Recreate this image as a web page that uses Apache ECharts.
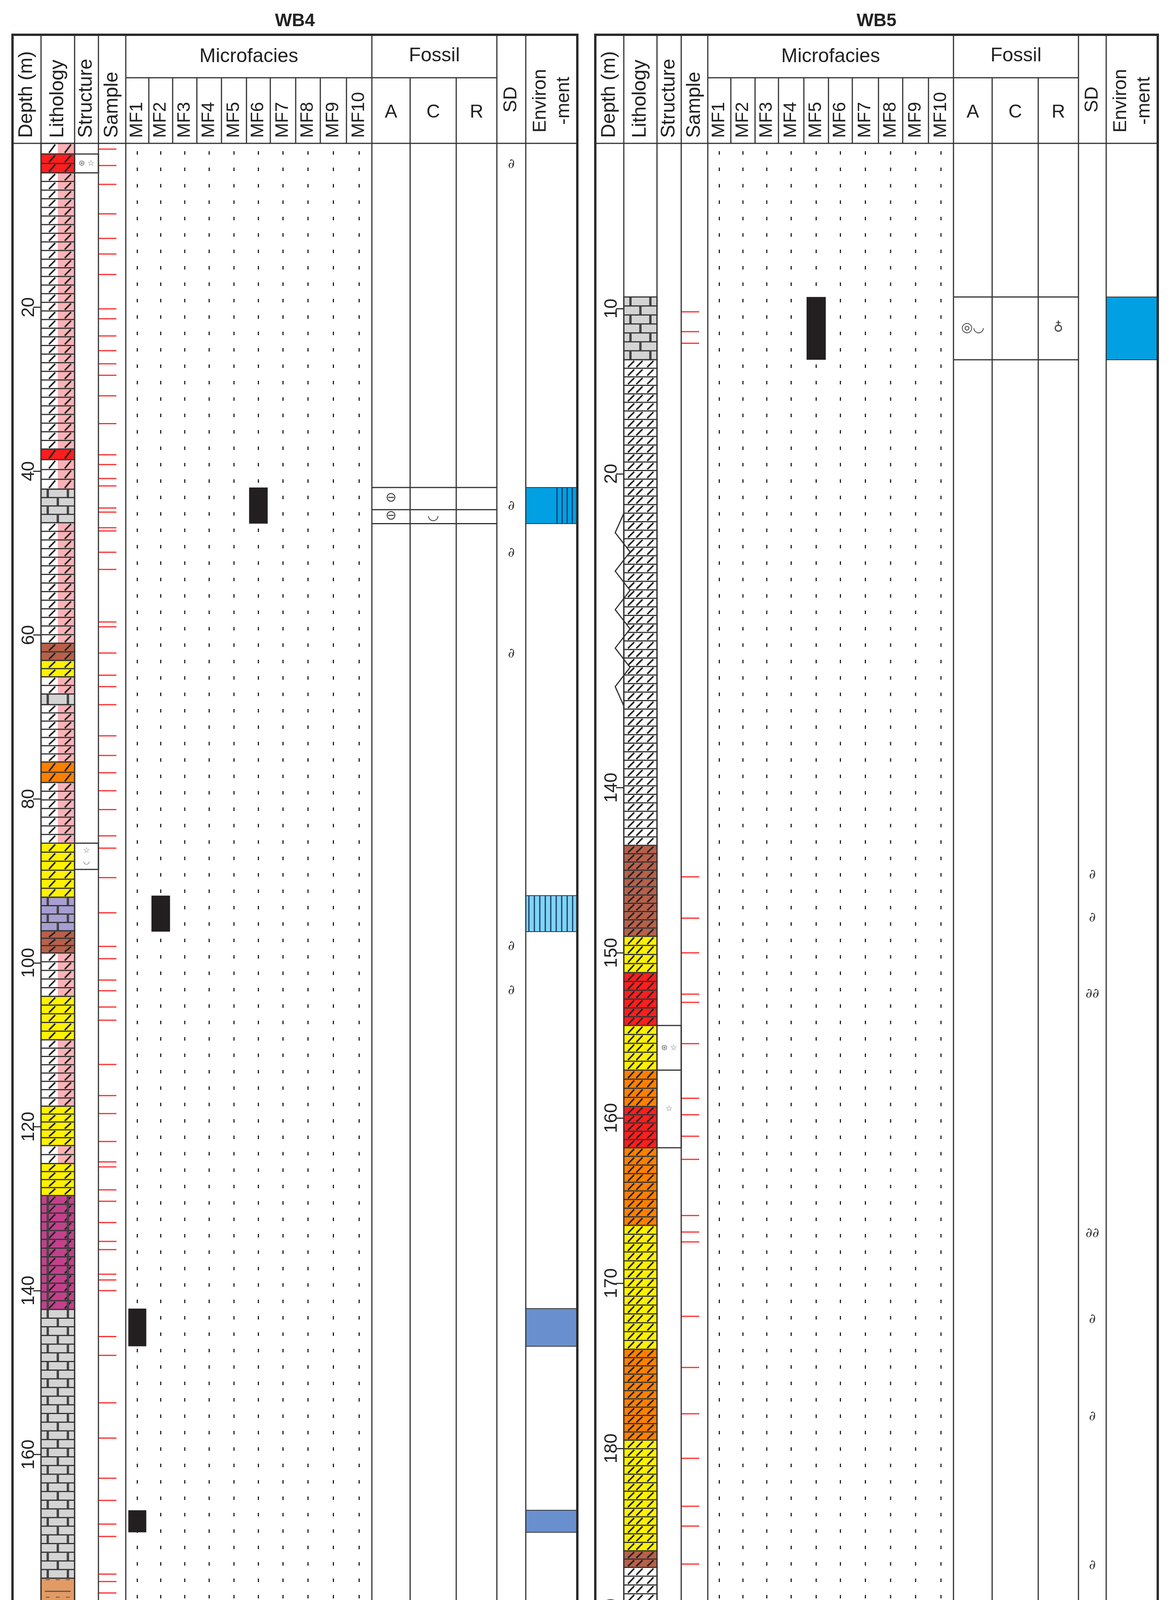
<!DOCTYPE html>
<html><head><meta charset="utf-8">
<script src="https://cdn.jsdelivr.net/npm/echarts@6/dist/echarts.min.js"></script>
<style>html,body{margin:0;padding:0;background:#fff}#c{width:3003px;height:4648px}</style>
</head><body><div id="c"></div>
<script>
// ---------------- DATA ----------------
const WB4_DEPTH_TICKS = [20,40,60,80,100,120,140,160,180,200];
const WB5_DEPTH_TICKS = [10,20,140,150,160,170,180,190,200];
const MF_NAMES = ['MF1','MF2','MF3','MF4','MF5','MF6','MF7','MF8','MF9','MF10'];

const WB4_LITH = [[0,1.3,'dp'],[1.3,3.6,'red'],[3.6,37.3,'dp'],[37.3,38.6,'red'],[38.6,42.2,'dp'],[42.2,46.3,'lime'],[46.3,61,'dp'],[61,63.1,'brn'],[63.1,65.1,'yel'],[65.1,67.2,'dp'],[67.2,68.5,'lime'],[68.5,75.5,'dp'],[75.5,78,'org'],[78,85.4,'dp'],[85.4,92,'yel'],[92,96.1,'lav'],[96.1,98.8,'brn'],[98.8,104.1,'dp'],[104.1,109.4,'yel'],[109.4,117.5,'dp'],[117.5,122.3,'yel'],[122.3,124.5,'dp'],[124.5,128.4,'yel'],[128.4,142.3,'mag'],[142.3,175.1,'lime'],[175.1,188.9,'sand'],[188.9,189.9,'dp'],[189.9,202.4,'lime']];
const WB5_LITH = [[9.3,13.1,'lime'],[13.1,143.5,'dw'],[143.5,149,'brn'],[149,151.2,'yel'],[151.2,154.4,'red'],[154.4,157.1,'yel'],[157.1,159.3,'org'],[159.3,161.8,'red'],[161.8,166.5,'org'],[166.5,174,'yel'],[174,179.5,'org'],[179.5,186.2,'yel'],[186.2,187.2,'brn'],[187.2,198.9,'dw'],[198.9,199.4,'lav'],[199.4,201.4,'lime']];
const WB5_BREAK = [22.4, 34.05]; // compressed section (display units)

const WB4_SAMPLES = [0.7,2.7,5.0,8.6,11.6,13.5,16.0,20.2,21.4,23.5,25.3,26.9,28.3,30.8,34.2,38.0,39.2,40.9,41.8,44.5,45.0,46.9,47.3,49.9,52.0,58.4,59.0,62.2,64.9,66.3,68.5,72.3,74.7,76.8,79.0,81.3,84.5,86.0,89.6,93.9,98.0,99.5,102.1,103.4,105.4,107.0,112.4,116.2,118.4,121.8,124.3,124.9,127.7,129.1,131.7,134.0,135.0,138.0,138.7,140.0,145.6,147.9,153.7,158.0,162.9,165.6,168.5,170.0,174.6,175.5,176.9,179.9,181.4,185.0,187.8,188.1,188.6,189.1,189.4,190.6,193.8,198.1,200.1];
const WB5_SAMPLES = [10.2,11.4,12.1,145.4,147.9,150,152.5,153.0,155.5,158.8,159.8,161.1,162.5,165.9,166.9,167.5,172.0,175.1,177.9,180.6,183.5,184.7,187.0,199.2,199.5,199.8];

// microfacies: [mf index 1..10, top, bottom]
const WB4_MF = [[6,42.0,46.4],[2,91.8,96.2],[1,142.2,146.8],[1,166.8,169.5]];
const WB5_MF = [[5,9.3,13.1],[2,199.05,199.6],[5,199.6,199.9],[7,199.85,201.4]];

// environment: [top, bottom, kind]
const WB4_ENV = [[42.0,46.4,'blueS'],[91.8,96.2,'cyanS'],[142.2,146.8,'steel'],[166.8,169.5,'steel']];
const WB5_ENV = [[9.3,13.1,'blue'],[199.05,199.6,'cyanS'],[199.6,199.85,'blue'],[199.85,201.4,'steel']];

// fossil row boundaries and symbols [column, depth, glyph]
const WB4_FOSSIL_LINES = [42.0,44.7,46.4];
const WB4_FOSSIL_SYM = [['A',43.3,'⊖'],['A',45.5,'⊖'],['C',45.5,'◡']];
const WB5_FOSSIL_LINES = [9.3,13.1,199.85];
const WB5_FOSSIL_TRAP = [[198.2,199.0],[199.0,199.85]];
const WB5_FOSSIL_SYM = [['A',11.2,'◎◡'],['R',11.2,'♁'],['C',198.6,'♁'],['A',199.4,'♁Ѱ'],['R',199.4,'♁'],['A',200.6,'♁'],['C',200.6,'Ѱ']];

const WB4_SD = [[2.6,1],[44.3,1],[50.0,1],[62.3,1],[98.0,1],[103.4,1]];
const WB5_SD = [[145.3,1],[147.9,1],[152.5,2],[167.0,2],[172.2,1],[178.1,1],[187.1,1]];

const WB4_STRUCT = [[1.3,3.6,'⊛ ☆'],[85.4,88.6,'☆\n◡']];
const WB5_STRUCT = [[154.4,157.1,'⊛ ☆'],[157.1,161.8,'☆']];

// ---------------- LAYOUT ----------------
const TOP=89, SUB=199, HB=367, BOT=4613;
const P4 = {title:'WB4', left:32,right:1478, ymax:202.4, depth:[32,105], lith:[105,191], struct:[191,252], sample:[252,322],
  mf:[322,381,442,504,567,631,692,757,820,887,952], A:[952,1050], C:[1050,1168], R:[1168,1272], sd:[1272,1346], env:[1346,1478], strokes:[0.33,0.8]};
const P5 = {title:'WB5', left:1524,right:2964, ymax:100.4, depth:[1524,1597], lith:[1597,1682], struct:[1682,1744], sample:[1744,1812],
  mf:[1812,1871,1933,1993,2058,2121,2182,2249,2311,2377,2441], A:[2441,2540], C:[2540,2658], R:[2658,2761], sd:[2761,2832], env:[2832,2964], strokes:[0.22,0.47,0.8]};
const toU5 = d => d<=60 ? d : d-101;
const idU = d => d;

const COL = {red:'#ff1e1e', yel:'#fff100', org:'#ff8000', brn:'#b8604a', lav:'#a79ed2', mag:'#c2418b', lime:'#d4d4d4', sand:'#e39b64', dw:'#ffffff', dp:'#ffffff'};
const FONT='Liberation Sans, Arial, sans-serif';
const LC='#333';

function lithRender(arr, P, conv){
  return function(params, api){
    const r=arr[params.dataIndex], t=r[2];
    const x0=P.lith[0], x1=P.lith[1], w=x1-x0;
    const y0=api.coord([x0,conv(r[0])])[1], y1=api.coord([x0,conv(r[1])])[1];
    const ch=[];
    if(t==='dp'){
      ch.push({type:'rect',shape:{x:x0,y:y0,width:w/2,height:y1-y0},style:{fill:'#fff'}});
      ch.push({type:'rect',shape:{x:x0+w/2,y:y0,width:w/2,height:y1-y0},style:{fill:'#f9b2b6'}});
    } else ch.push({type:'rect',shape:{x:x0,y:y0,width:w,height:y1-y0},style:{fill:COL[t]}});
    const rowH=22;
    const n=Math.max(1,Math.round((y1-y0)/rowH)), h=(y1-y0)/n;
    const dol = ['dp','dw','red','yel','org','brn','mag'].includes(t);
    const lim = ['lime','lav','mag'].includes(t);
    for(let k=0;k<n;k++){
      const ya=y0+k*h, yb=ya+h;
      if(k>0 && t!=='sand') ch.push({type:'line',shape:{x1:x0,y1:ya,x2:x1,y2:ya},style:{stroke:LC,lineWidth:3}});
      if(dol){
        P.strokes.forEach(f=>{const xc=x0+f*w;
          ch.push({type:'line',shape:{x1:xc-8,y1:yb-3,x2:xc+8,y2:ya+3},style:{stroke:'#222',lineWidth:4}});});
      }
      if(lim){
        const fs = t==='mag' ? [0.2,0.8] : (k%2 ? [0.5] : [0.2,0.8]);
        fs.forEach(f=>{const xc=x0+f*w;
          ch.push({type:'line',shape:{x1:xc,y1:ya,x2:xc,y2:yb},style:{stroke:'#444',lineWidth:6}});});
      }
      if(t==='sand' && k%2===0){
        [0.2,0.5,0.8].forEach(f=>{const xc=x0+f*w;
          ch.push({type:'line',shape:{x1:xc-5,y1:ya+4,x2:xc+5,y2:ya+4},style:{stroke:'#555',lineWidth:2}});});
      }
      if(t==='sand' && k%3===1){
        ch.push({type:'line',shape:{x1:x0+10,y1:ya+h/2,x2:x1-10,y2:ya+h/2},style:{stroke:'#555',lineWidth:3}});
      }
    }
    ch.push({type:'rect',shape:{x:x0,y:y0,width:w,height:y1-y0},style:{fill:'none',stroke:LC,lineWidth:3}});
    return {type:'group',children:ch};
  };
}

function panelSeries(P, gi, conv, D){
  const ax={xAxisIndex:gi,yAxisIndex:gi};
  const S=[];
  const mk = (data, render, z) => Object.assign({type:'custom', data:data, renderItem:render, clip:false, silent:true, z:z||2}, ax);
  // MF dotted guide lines
  S.push(mk(MF_NAMES.map((n,i)=>[i,0]), (params,api)=>{
    const i=params.dataIndex, xc=(P.mf[i]+P.mf[i+1])/2;
    const a=api.coord([xc,0]), b=api.coord([xc,P.ymax]);
    return {type:'line',shape:{x1:xc,y1:a[1]+20,x2:xc,y2:b[1]},style:{stroke:'#222',lineWidth:3,lineDash:[9,33]}};
  },1));
  // lithology
  S.push(mk(D.lith.map(r=>[P.lith[0],conv(r[0])]), lithRender(D.lith,P,conv),3));
  // samples
  S.push(mk(D.samples.map(d=>[P.sample[0],conv(d)]), (params,api)=>{
    const y=api.coord([0,conv(D.samples[params.dataIndex])])[1];
    return {type:'line',shape:{x1:P.sample[0],y1:y,x2:P.sample[0]+46,y2:y},style:{stroke:'#ff2a2a',lineWidth:3}};
  }));
  // microfacies bars
  S.push(mk(D.mf.map(r=>[P.mf[r[0]-1],conv(r[1])]), (params,api)=>{
    const r=D.mf[params.dataIndex], xa=P.mf[r[0]-1], xb=P.mf[r[0]], w=(xb-xa)*0.78;
    const y0=api.coord([0,conv(r[1])])[1], y1=api.coord([0,conv(r[2])])[1];
    return {type:'rect',shape:{x:(xa+xb)/2-w/2,y:y0,width:w,height:y1-y0},style:{fill:'#231f20'}};
  },4));
  // environment
  S.push(mk(D.env.map(r=>[P.env[0],conv(r[0])]), (params,api)=>{
    const r=D.env[params.dataIndex], x0=P.env[0], x1=P.env[1];
    const y0=api.coord([0,conv(r[0])])[1], y1=api.coord([0,conv(r[1])])[1];
    const fill = {blueS:'#00a0e2',blue:'#00a0e2',cyanS:'#7fd4f4',steel:'#6a8fce'}[r[2]];
    const ch=[{type:'rect',shape:{x:x0,y:y0,width:x1-x0,height:y1-y0},style:{fill:fill,stroke:LC,lineWidth:2}}];
    if(r[2]==='blueS'){ for(let k=1;k<=4;k++){const x=x1-k*13; ch.push({type:'line',shape:{x1:x,y1:y0,x2:x,y2:y1},style:{stroke:'#1a3a6a',lineWidth:3}});} }
    if(r[2]==='cyanS'){ for(let x=x0+8;x<x1;x+=14){ ch.push({type:'line',shape:{x1:x,y1:y0,x2:x,y2:y1},style:{stroke:'#1a3a6a',lineWidth:3}});} }
    return {type:'group',children:ch};
  },4));
  // fossil lines
  S.push(mk(D.fosLines.map(d=>[P.A[0],conv(d)]), (params,api)=>{
    const y=api.coord([0,conv(D.fosLines[params.dataIndex])])[1];
    return {type:'line',shape:{x1:P.A[0],y1:y,x2:P.R[1],y2:y},style:{stroke:LC,lineWidth:3}};
  }));
  if(D.trap){
    S.push(mk(D.trap.map(r=>[P.A[0],conv(r[0])]), (params,api)=>{
      const r=D.trap[params.dataIndex];
      const ya=api.coord([0,conv(r[0])])[1], yb=api.coord([0,conv(r[1])])[1];
      return {type:'polyline',shape:{points:[[P.A[0],yb],[P.A[0]+30,ya],[P.R[1]-16,ya],[P.R[1],yb]]},style:{stroke:LC,lineWidth:4,fill:'none'}};
    }));
  }
  // fossil symbols
  S.push(mk(D.fosSym.map(r=>[P[r[0]][0],conv(r[1])]), (params,api)=>{
    const r=D.fosSym[params.dataIndex], c=P[r[0]];
    const y=api.coord([0,conv(r[1])])[1];
    return {type:'text',style:{x:(c[0]+c[1])/2,y:y,text:r[2],fill:'#444',font:'34px DejaVu Sans',align:'center',verticalAlign:'middle'}};
  },5));
  // SD symbols
  S.push(mk(D.sd.map(r=>[P.sd[0],conv(r[0])]), (params,api)=>{
    const r=D.sd[params.dataIndex];
    const y=api.coord([0,conv(r[0])])[1];
    return {type:'text',style:{x:(P.sd[0]+P.sd[1])/2,y:y,text:'∂'.repeat(r[1]),fill:'#333',font:'italic 34px DejaVu Serif',align:'center',verticalAlign:'middle'}};
  },5));
  // structures
  S.push(mk(D.struct.map(r=>[P.struct[0],conv(r[0])]), (params,api)=>{
    const r=D.struct[params.dataIndex], x0=P.struct[0], x1=P.struct[1];
    const y0=api.coord([0,conv(r[0])])[1], y1=api.coord([0,conv(r[1])])[1];
    return {type:'group',children:[
      {type:'rect',shape:{x:x0,y:y0,width:x1-x0,height:y1-y0},style:{fill:'#fff',stroke:LC,lineWidth:3}},
      {type:'text',style:{x:(x0+x1)/2,y:(y0+y1)/2,text:r[2],fill:'#666',font:'20px DejaVu Sans',align:'center',verticalAlign:'middle',lineHeight:28}}]};
  },5));
  // compressed-section zigzag
  if(D.brk){
    S.push(mk([[P.lith[0],D.brk[0]]], (params,api)=>{
      const ya=api.coord([0,D.brk[0]])[1], yb=api.coord([0,D.brk[1]])[1];
      const n=5, h=(yb-ya)/n, x=P.lith[0], pts=[[x,ya]];
      for(let k=0;k<n;k++){ pts.push([x-22,ya+k*h+h/2]); pts.push([x+16,ya+(k+1)*h]); }
      pts[pts.length-1]=[x,yb];
      return {type:'polygon',shape:{points:pts},style:{fill:'#fff',stroke:LC,lineWidth:3}};
    },6));
  }
  return S;
}

function frameGraphics(P){
  const G=[], L=(x1,y1,x2,y2,w)=>G.push({type:'line',shape:{x1,y1,x2,y2},style:{stroke:LC,lineWidth:w||3},z:10});
  const T=(x,y,text,size,rot,align,bold)=>G.push({type:'text',x:x,y:y,rotation:rot?Math.PI/2:0,z:11,
    style:{text:text,font:(bold?'bold ':'')+size+'px '+FONT,fill:'#222',align:align||'center',verticalAlign:'middle'}});
  G.push({type:'rect',shape:{x:P.left,y:TOP,width:P.right-P.left,height:BOT-TOP},style:{fill:'none',stroke:'#2a2a2a',lineWidth:6},z:12});
  T((P.left+P.right)/2,54,P.title,46,false,'center',true);
  L(P.left,HB,P.right,HB,3);
  L(P.mf[0],SUB,P.R[1],SUB,3);
  [P.lith[0],P.struct[0],P.sample[0],P.mf[0],P.A[0],P.sd[0],P.env[0]].forEach(x=>L(x,TOP,x,BOT,3));
  [P.C[0],P.R[0]].forEach(x=>L(x,SUB,x,BOT,3));
  P.mf.slice(1,-1).forEach(x=>L(x,SUB,x,HB,3));
  const cx=c=>(c[0]+c[1])/2, yb=HB-14;
  T(cx(P.depth),yb,'Depth (m)',50,true,'left');
  T(cx(P.lith),yb,'Lithology',50,true,'left');
  T(cx(P.struct),yb,'Structure',50,true,'left');
  T(cx(P.sample),yb,'Sample',50,true,'left');
  T((P.mf[0]+P.mf[10])/2,145,'Microfacies',50);
  T((P.A[0]+P.R[1])/2,143,'Fossil',50);
  MF_NAMES.forEach((n,i)=>T((P.mf[i]+P.mf[i+1])/2,yb,n,46,true,'left'));
  T(cx(P.A),288,'A',48); T(cx(P.C),288,'C',48); T(cx(P.R),288,'R',48);
  T(cx(P.sd),yb-65,'SD',48,true,'left');
  G.push({type:'text',x:cx(P.env)+2,y:yb-95,rotation:Math.PI/2,z:11,style:{text:'Environ\n-ment',font:'48px '+FONT,fill:'#222',align:'center',verticalAlign:'middle',lineHeight:60}});
  return G;
}

const chart=echarts.init(document.getElementById('c'),null,{renderer:'canvas'});
const D4={lith:WB4_LITH,samples:WB4_SAMPLES,mf:WB4_MF,env:WB4_ENV,fosLines:WB4_FOSSIL_LINES,fosSym:WB4_FOSSIL_SYM,sd:WB4_SD,struct:WB4_STRUCT};
const D5={lith:WB5_LITH,samples:WB5_SAMPLES,mf:WB5_MF,env:WB5_ENV,fosLines:WB5_FOSSIL_LINES,fosSym:WB5_FOSSIL_SYM,sd:WB5_SD,struct:WB5_STRUCT,trap:WB5_FOSSIL_TRAP,brk:WB5_BREAK};
const yAx=(gi,P,ticks,conv,fmt)=>({type:'value',gridIndex:gi,inverse:true,min:0,max:P.ymax,offset:-(P.lith[0]-P.left),
  splitLine:{show:false},axisLine:{show:false},
  axisTick:{show:true,length:20,lineStyle:{color:LC,width:3},customValues:ticks.map(conv)},
  axisLabel:{show:true,rotate:90,fontSize:46,fontFamily:FONT,color:'#222',margin:8,customValues:ticks.map(conv),formatter:fmt}});
chart.setOption({
  animation:false, backgroundColor:'#fff',
  grid:[{left:P4.left,width:P4.right-P4.left,top:HB,height:BOT-HB},{left:P5.left,width:P5.right-P5.left,top:HB,height:BOT-HB}],
  xAxis:[{type:'value',gridIndex:0,min:P4.left,max:P4.right,show:false},{type:'value',gridIndex:1,min:P5.left,max:P5.right,show:false}],
  yAxis:[yAx(0,P4,WB4_DEPTH_TICKS,idU,v=>String(Math.round(v))), yAx(1,P5,WB5_DEPTH_TICKS,toU5,v=>String(Math.round(v>30?v+101:v)))],
  graphic:[...frameGraphics(P4),...frameGraphics(P5)],
  series:[...panelSeries(P4,0,idU,D4),...panelSeries(P5,1,toU5,D5)]
});
</script></body></html>
